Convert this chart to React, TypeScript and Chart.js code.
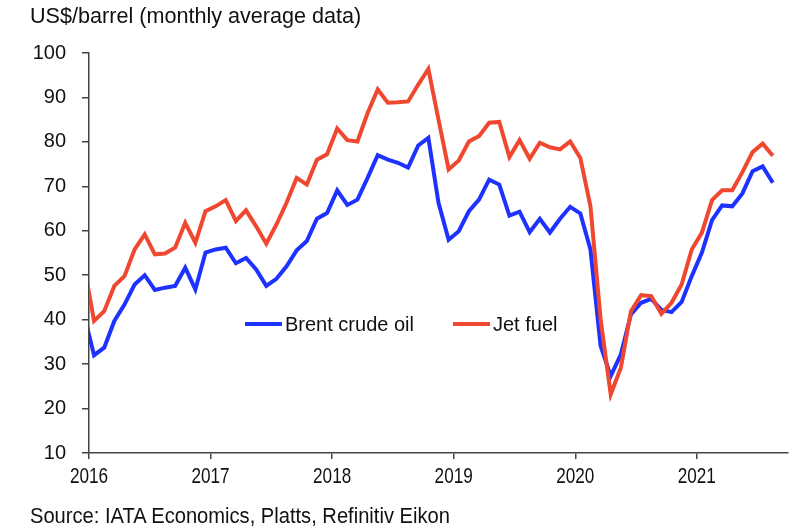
import React, { useEffect, useRef } from "react";
import { Chart, registerables } from "chart.js";

Chart.register(...registerables);

// Monthly series, first value = Dec 2015 (clipped at the axis), then Jan 2016 .. Aug 2021
const firstMonthOffset = -1; // Dec 2015 relative to Jan 2016
const brentCrude = [
  41.3,
  32.0, 33.7, 39.7, 43.4, 47.9, 50.0, 46.7, 47.2, 47.6, 51.7, 46.8, 55.1,
  55.8, 56.2, 52.7, 53.9, 51.3, 47.6, 49.2, 52.0, 55.6, 57.7, 62.7, 64.0,
  69.1, 65.8, 67.0, 71.9, 77.0, 76.0, 75.3, 74.2, 79.2, 80.9, 66.3, 58.0,
  59.9, 64.4, 67.0, 71.5, 70.4, 63.4, 64.3, 59.7, 62.7, 59.6, 62.7, 65.4,
  63.9, 55.8, 34.1, 27.3, 32.2, 41.2, 43.8, 44.7, 42.2, 41.7, 44.0, 49.8,
  55.1, 62.4, 65.7, 65.5, 68.4, 73.4, 74.5, 70.8,
];
const jetFuel = [
  52.4,
  39.7, 41.9, 47.6, 49.8, 55.8, 59.2, 54.7, 54.9, 56.2, 61.8, 57.3, 64.4,
  65.5, 66.9, 62.2, 64.6, 61.0, 57.1, 61.4, 66.3, 71.9, 70.4, 76.0, 77.2,
  83.0, 80.4, 80.1, 86.5, 91.8, 88.8, 88.9, 89.1, 92.9, 96.4, 85.0, 73.8,
  75.8, 80.1, 81.3, 84.3, 84.5, 76.6, 80.4, 76.2, 79.8, 78.8, 78.3, 80.1,
  76.4, 65.5, 40.1, 23.2, 29.2, 41.9, 45.5, 45.3, 41.3, 43.8, 47.9, 55.8,
  59.6, 66.9, 69.1, 69.1, 73.2, 77.7, 79.6, 76.9,
];
const yearLabels = ["2016", "2017", "2018", "2019", "2020", "2021"];
const axisMonths = 69; // Jan 2016 .. end of Sep 2021
const yMin = 10;
const yMax = 100;
const yStep = 10;

const seriesNames = ["Brent crude oil", "Jet fuel"];
const BLUE = "rgb(30,50,255)";
const RED = "rgb(240,72,48)";
const TEXT = "#111";
const AXIS = "#444";
const FONT = "'Liberation Sans', Arial, sans-serif";

const toPoints = (vals: number[]) =>
  vals.map((v, i) => ({ x: i + firstMonthOffset + 0.5, y: v }));

// Draws the year labels in a condensed style (horizontally compressed text)
const narrowYearLabels = {
  id: "narrowYearLabels",
  afterDraw(chart: any) {
    const xs = chart.scales.x;
    const ctx = chart.ctx;
    ctx.save();
    ctx.font = `22px ${FONT}`;
    ctx.fillStyle = TEXT;
    ctx.textAlign = "center";
    ctx.textBaseline = "middle";
    yearLabels.forEach((label, i) => {
      const px = xs.getPixelForValue(i * 12);
      ctx.save();
      ctx.translate(px, xs.top + 24);
      ctx.scale(0.78, 1);
      ctx.fillText(label, 0, 0);
      ctx.restore();
    });
    ctx.restore();
  },
};

export default function App() {
  const ref = useRef<HTMLCanvasElement | null>(null);

  useEffect(() => {
    if (!ref.current) return;
    const chart = new Chart(ref.current, {
      type: "line",
      data: {
        datasets: [
          {
            label: seriesNames[0],
            data: toPoints(brentCrude),
            borderColor: BLUE,
            backgroundColor: BLUE,
            borderWidth: 4,
            pointRadius: 0,
            tension: 0,
            clip: 0,
            order: 1,
          },
          {
            label: seriesNames[1],
            data: toPoints(jetFuel),
            borderColor: RED,
            backgroundColor: RED,
            borderWidth: 4,
            pointRadius: 0,
            tension: 0,
            clip: 0,
            order: 0,
          },
        ],
      },
      plugins: [narrowYearLabels],
      options: {
        animation: false,
        responsive: false,
        maintainAspectRatio: false,
        layout: { padding: { top: 53, right: 21, left: 0, bottom: 0 } },
        plugins: { legend: { display: false }, tooltip: { enabled: false }, title: { display: false } },
        scales: {
          x: {
            type: "linear",
            min: 0,
            max: axisMonths,
            afterFit: (s: any) => {
              s.height = 79;
            },
            afterBuildTicks: (s: any) => {
              s.ticks = yearLabels.map((_, i) => ({ value: i * 12 }));
            },
            ticks: {
              display: false,
              autoSkip: false,
              maxRotation: 0,
            },
            grid: { drawOnChartArea: false, drawTicks: true, tickLength: 6, color: AXIS, lineWidth: 1.5 },
            border: { display: true, color: AXIS, width: 1.5 },
          },
          y: {
            min: yMin,
            max: yMax,
            afterFit: (s: any) => {
              s.width = 89;
            },
            ticks: {
              stepSize: yStep,
              padding: 16,
              color: TEXT,
              font: { family: FONT, size: 20 },
            },
            grid: { drawOnChartArea: false, drawTicks: true, tickLength: 7, color: AXIS, lineWidth: 1.5 },
            border: { display: true, color: AXIS, width: 1.5 },
          },
        },
      },
    });
    return () => chart.destroy();
  }, []);

  const legendItem = (label: string, color: string, left: number) => (
    <div
      style={{
        position: "absolute",
        left,
        top: 312,
        display: "flex",
        alignItems: "center",
        height: 24,
        fontFamily: FONT,
        fontSize: 20,
        color: TEXT,
        whiteSpace: "nowrap",
      }}
    >
      <span style={{ display: "inline-block", width: 37, height: 4, background: color, marginRight: 3 }} />
      <span>{label}</span>
    </div>
  );

  return (
    <div
      style={{
        position: "fixed",
        left: 0,
        top: 0,
        width: 809,
        height: 532,
        background: "#fff",
        overflow: "hidden",
      }}
    >
      <canvas ref={ref} width={809} height={532} style={{ position: "absolute", left: 0, top: 0, width: 809, height: 532 }} />
      <div
        style={{
          position: "absolute",
          left: 30,
          top: 4,
          fontFamily: FONT,
          fontSize: 21.6,
          lineHeight: 1.15,
          color: TEXT,
          whiteSpace: "nowrap",
        }}
      >
        US$/barrel (monthly average data)
      </div>
      {legendItem(seriesNames[0], BLUE, 245)}
      {legendItem(seriesNames[1], RED, 453)}
      <div
        style={{
          position: "absolute",
          left: 30,
          top: 503,
          fontFamily: FONT,
          fontSize: 22,
          lineHeight: 1.15,
          color: TEXT,
          whiteSpace: "nowrap",
          transform: "scaleX(0.915)",
          transformOrigin: "left center",
        }}
      >
        Source: IATA Economics, Platts, Refinitiv Eikon
      </div>
    </div>
  );
}
